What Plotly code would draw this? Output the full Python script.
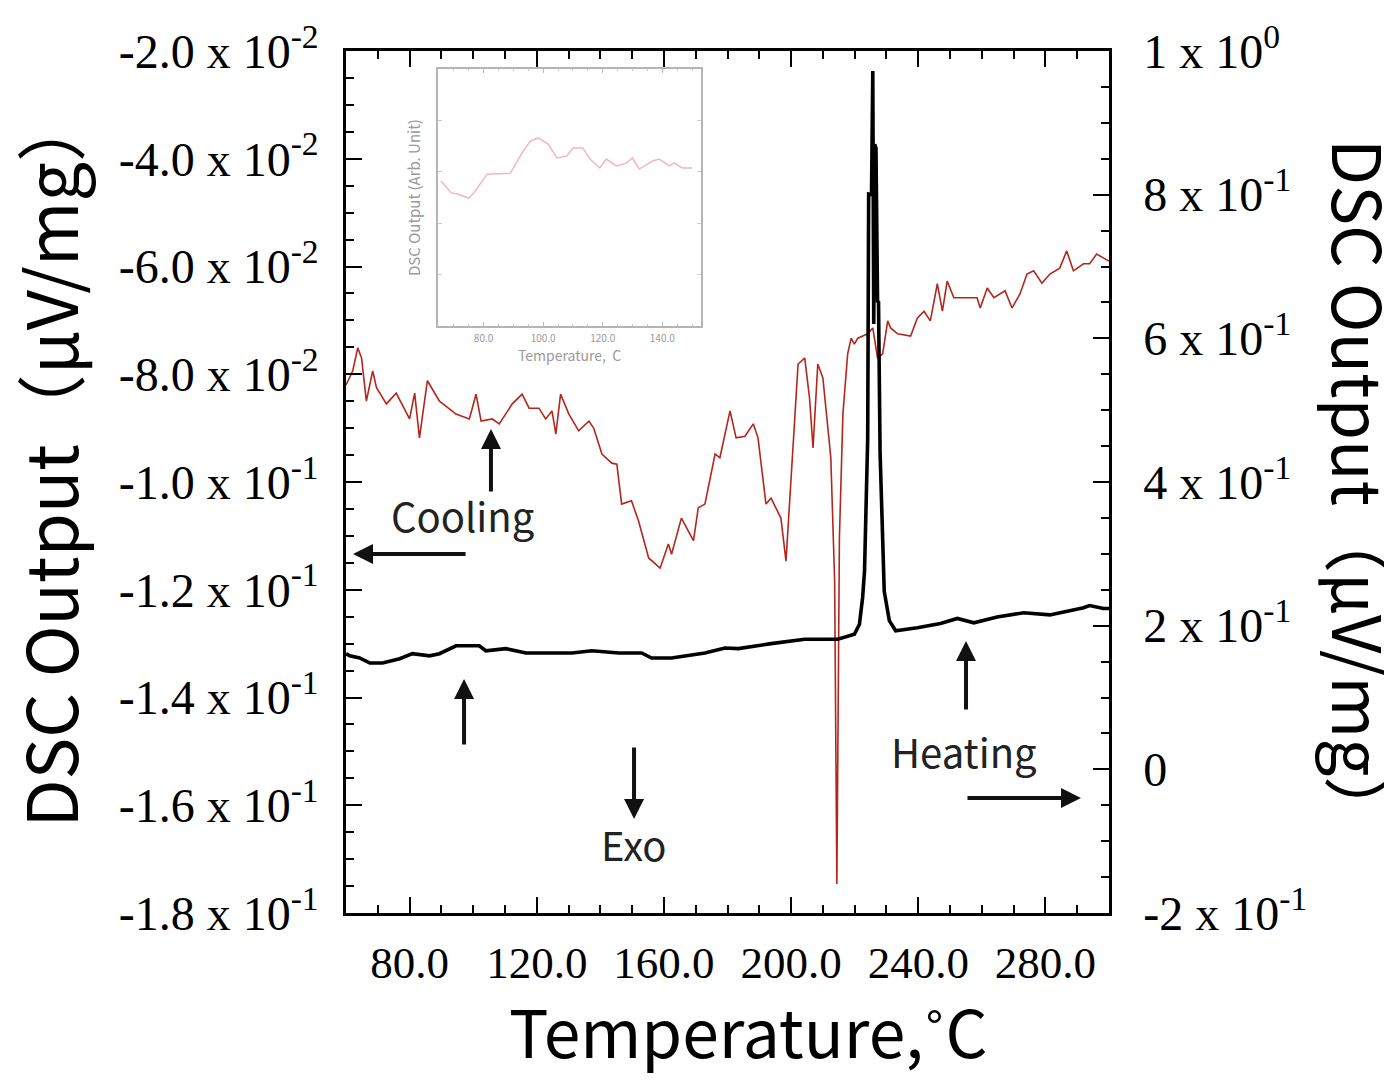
import plotly.graph_objects as go

# ---------------- data ----------------
# Cooling curve (left axis, µV/mg)
cool_T = [60, 62.1, 63.7, 64.9, 66.4, 68.4, 69.6, 72.7, 75.8, 80, 81.6, 83.1, 85.6, 89.4, 94.6, 98.8,
          100.9, 102.5, 106, 108.2, 112.3, 115.4, 117.6, 120.7, 122.8, 124.8, 126, 127.5, 130.1, 133.2,
          136.4, 137.9, 140.5, 143.6, 145.2, 146.7, 149.8, 152, 155.2, 158.8, 161.4, 162.4, 165.5, 167.7,
          169.3, 170.8, 172.9, 176.1, 177.6, 180.8, 182.7, 185.5, 188.1, 189.6, 192.1, 193.7, 196.8, 198.4,
          200, 202.2, 204.3, 205.8, 206.9, 208.4, 210, 211.6, 212.5, 213.7, 214.4, 215.2, 216.3, 217.8,
          218.9, 219.9, 221, 224.1, 225.7, 227.2, 228.8, 230.4, 231.3, 233.5, 237.6, 239.7, 241.8, 243.8,
          246, 247.6, 249.1, 251.2, 253.2, 256.3, 258.5, 259.5, 261.7, 263.8, 265.7, 267.3, 269.5, 272,
          274.2, 276.3, 278.9, 281.4, 284.5, 286.7, 288.8, 292, 293.9, 296.1, 298.2, 300]
cool_V = [-0.082, -0.0794, -0.0751, -0.077, -0.085, -0.0794, -0.0825, -0.0855, -0.0835, -0.0883, -0.0835,
          -0.0918, -0.0812, -0.085, -0.0874, -0.0883, -0.0837, -0.0887, -0.0883, -0.0892, -0.0855, -0.0837,
          -0.0863, -0.0863, -0.0883, -0.0868, -0.0911, -0.0837, -0.0874, -0.0905, -0.0887, -0.09, -0.0948,
          -0.0965, -0.0967, -0.1041, -0.1035, -0.1072, -0.1141, -0.116, -0.1115, -0.1134, -0.1067, -0.1091,
          -0.1109, -0.1048, -0.1041, -0.0948, -0.0955, -0.0868, -0.0918, -0.0915, -0.0892, -0.0918, -0.1041,
          -0.103, -0.1067, -0.1147, -0.0985, -0.0781, -0.077, -0.0844, -0.0937, -0.0781, -0.0807, -0.09,
          -0.0955, -0.1184, -0.1746, -0.1104, -0.0874, -0.0762, -0.0733, -0.0744, -0.0733, -0.0725, -0.0714,
          -0.077, -0.0762, -0.0701, -0.0714, -0.0725, -0.0729, -0.0696, -0.0683, -0.0701, -0.0632, -0.0683,
          -0.0627, -0.0658, -0.0658, -0.0658, -0.0658, -0.0677, -0.064, -0.0658, -0.0651, -0.0645, -0.0677,
          -0.0651, -0.0614, -0.0608, -0.0631, -0.0614, -0.0603, -0.0571, -0.0608, -0.0595, -0.0595, -0.0577,
          -0.0584, -0.059]

# Heating curve (right axis, µV/mg)
heat_T = [60, 61.2, 64.3, 67.5, 71.5, 76.9, 80.9, 86.3, 89.4, 92.5, 94.6, 101.9, 104, 110.3, 116.6, 122.8,
          131.1, 137.3, 145.8, 153, 156.1, 162.4, 167.7, 172.9, 179.2, 183.4, 193.7, 204.3, 214.7, 219.9,
          221.5, 222.5, 223.1, 224.1, 224.4, 225.3, 225.7, 226.0, 226.3, 226.7, 227.2, 227.5, 228.0, 228.8,
          229.3, 230.9, 232.9, 239.7, 247, 252.3, 257.5, 264.8, 273.2, 281.4, 285.7, 292, 293.9, 298.2, 300]
heat_V = [0.161, 0.158, 0.155, 0.148, 0.148, 0.154, 0.161, 0.158, 0.161, 0.168, 0.172, 0.172, 0.165, 0.168,
          0.162, 0.162, 0.162, 0.165, 0.162, 0.162, 0.155, 0.155, 0.158, 0.162, 0.169, 0.168, 0.175, 0.181,
          0.181, 0.188, 0.202, 0.239, 0.276, 0.461, 0.801, 0.80, 0.972, 0.62, 0.87, 0.865, 0.65, 0.652,
          0.44, 0.308, 0.248, 0.207, 0.193, 0.197, 0.203, 0.210, 0.204, 0.212, 0.218, 0.215, 0.219, 0.225,
          0.228, 0.224, 0.224]

# Inset curve (arbitrary units)
inset_T = [65.7, 69, 71.2, 75, 76.7, 81.2, 89, 90, 93.3, 95.7, 98.3, 101.7, 104.6, 107.9, 110, 113.3,
           115.7, 119, 121.2, 124.6, 127.9, 130, 132.3, 136.7, 139, 142.3, 144, 146.7, 150]
inset_V = [0.564, 0.519, 0.514, 0.498, 0.518, 0.591, 0.595, 0.615, 0.681, 0.72, 0.732, 0.708, 0.654, 0.661,
           0.693, 0.693, 0.65, 0.615, 0.65, 0.623, 0.634, 0.654, 0.611, 0.642, 0.65, 0.623, 0.634, 0.615,
           0.615]

x_ticks = [80, 120, 160, 200, 240, 280]
x_ticktext = ["80.0", "120.0", "160.0", "200.0", "240.0", "280.0"]
yl_ticks = [-0.02, -0.04, -0.06, -0.08, -0.10, -0.12, -0.14, -0.16, -0.18]
yl_ticktext = ["-2.0 x 10<sup>-2</sup>", "-4.0 x 10<sup>-2</sup>", "-6.0 x 10<sup>-2</sup>",
               "-8.0 x 10<sup>-2</sup>", "-1.0 x 10<sup>-1</sup>", "-1.2 x 10<sup>-1</sup>",
               "-1.4 x 10<sup>-1</sup>", "-1.6 x 10<sup>-1</sup>", "-1.8 x 10<sup>-1</sup>"]
yr_ticks = [1.0, 0.8, 0.6, 0.4, 0.2, 0.0, -0.2]
yr_ticktext = ["1 x 10<sup>0</sup>", "8 x 10<sup>-1</sup>", "6 x 10<sup>-1</sup>", "4 x 10<sup>-1</sup>",
               "2 x 10<sup>-1</sup>", "0", "-2 x 10<sup>-1</sup>"]
inset_xticks = [80, 100, 120, 140]
inset_xticktext = ["80.0", "100.0", "120.0", "140.0"]

# ---------------- figure ----------------
SERIF = "Liberation Serif"
SANS = "Noto Sans CJK JP"

fig = go.Figure()
fig.add_trace(go.Scatter(x=cool_T, y=cool_V, mode="lines", line=dict(color="#b3261e", width=1.6),
                         xaxis="x", yaxis="y", showlegend=False))
fig.add_trace(go.Scatter(x=heat_T, y=heat_V, mode="lines", line=dict(color="black", width=3.6),
                         xaxis="x", yaxis="y2", showlegend=False))
fig.add_trace(go.Scatter(x=inset_T, y=inset_V, mode="lines", line=dict(color="#f2b6c0", width=1.5),
                         xaxis="x3", yaxis="y3", showlegend=False))

xtickfont = dict(family=SERIF, size=45, color="black")
ytickfont = dict(family=SERIF, size=48, color="black")
GRAY = "#9a9a9a"

fig.update_layout(
    width=1385, height=1079,
    margin=dict(l=338, r=284, t=43, b=174, autoexpand=False),
    paper_bgcolor="white", plot_bgcolor="white",
    xaxis=dict(range=[60, 300], domain=[0, 1], tickvals=x_ticks, ticktext=x_ticktext,
               ticks="inside", ticklen=16, tickwidth=2, tickcolor="black",
               minor=dict(dtick=10, tick0=60, ticks="inside", ticklen=8, tickwidth=2, tickcolor="black"),
               showline=True, linecolor="black", linewidth=2.5, mirror="ticks",
               showgrid=False, zeroline=False, tickfont=xtickfont, ticklabelstandoff=8),
    yaxis=dict(range=[-0.18, -0.02], tickvals=yl_ticks, ticktext=yl_ticktext,
               ticks="inside", ticklen=16, tickwidth=2, tickcolor="black",
               minor=dict(dtick=0.005, tick0=-0.18, ticks="inside", ticklen=8, tickwidth=2, tickcolor="black"),
               showline=True, linecolor="black", linewidth=2.5, mirror=True,
               showgrid=False, zeroline=False, tickfont=ytickfont, ticklabelstandoff=15),
    yaxis2=dict(range=[-0.2, 1.0], overlaying="y", side="right", tickvals=yr_ticks, ticktext=yr_ticktext,
                ticks="inside", ticklen=16, tickwidth=2, tickcolor="black",
                minor=dict(dtick=0.05, tick0=-0.2, ticks="inside", ticklen=8, tickwidth=2, tickcolor="black"),
                showline=True, linecolor="black", linewidth=2.5,
                showgrid=False, zeroline=False, tickfont=ytickfont, ticklabelstandoff=22),
    xaxis3=dict(domain=[0.1206, 0.4653], anchor="y3", range=[64.7, 153], tickvals=inset_xticks,
                ticktext=inset_xticktext, ticks="inside", ticklen=4, tickcolor="#bbbbbb",
                minor=dict(dtick=5, ticks="inside", ticklen=2, tickcolor="#cccccc"),
                showline=True, linecolor="#b5b5b5", linewidth=1.5, mirror="ticks",
                showgrid=False, zeroline=False, ticklabelstandoff=2,
                tickfont=dict(family=SANS, size=10, color=GRAY),
                title=dict(text="Temperature,  C", font=dict(family=SANS, size=14, color=GRAY), standoff=0)),
    yaxis3=dict(domain=[0.681, 0.979], anchor="x3", range=[0, 1], showticklabels=False,
                dtick=0.2, ticks="inside", ticklen=4, tickcolor="#cccccc",
                showline=True, linecolor="#b5b5b5", linewidth=1.5, mirror="ticks",
                showgrid=False, zeroline=False,
                title=dict(text="DSC Output (Arb. Unit)", font=dict(family=SANS, size=15, color=GRAY),
                           standoff=12)),
)

annos = []
C = dict(xref="paper", yref="paper", xanchor="center", yanchor="middle", showarrow=False)
# axis titles
annos.append(dict(text="DSC Output（μV/mg）", x=-0.3906, y=0.526, textangle=-90,
                  font=dict(family=SANS, size=70, color="black"), **C))
annos.append(dict(text="DSC Output（μV/mg）", x=1.331, y=0.490, textangle=90,
                  font=dict(family=SANS, size=67, color="black"), **C))
annos.append(dict(text="Temperature,˚C", x=0.528, y=-0.1346,
                  font=dict(family=SANS, size=66, color="black"), **C))
# labels
lab_font = dict(family=SANS, size=40, color="#222222")
annos.append(dict(text="Cooling", x=0.1533, y=0.462, font=lab_font, **C))
annos.append(dict(text="Exo", x=0.3775, y=0.080, font=lab_font, **C))
annos.append(dict(text="Heating", x=0.81, y=0.188, font=lab_font, **C))
# arrows (head position + pixel offset to tail)
arrows = [
    (0.190, 0.5615, 0, 64),
    (0.0092, 0.4165, 114, 0),
    (0.1547, 0.2715, 0, 67),
    (0.3775, 0.109, 0, -73),
    (0.8126, 0.3155, 0, 70),
    (0.9633, 0.1334, -115, 0),
]
for hx, hy, ax, ay in arrows:
    annos.append(dict(text="", xref="paper", yref="paper", x=hx, y=hy, ax=ax, ay=ay,
                      axref="pixel", ayref="pixel", showarrow=True, arrowhead=2, arrowsize=1,
                      arrowwidth=4, arrowcolor="#111111"))
fig.update_layout(annotations=annos)

fig.write_html("out.html")
